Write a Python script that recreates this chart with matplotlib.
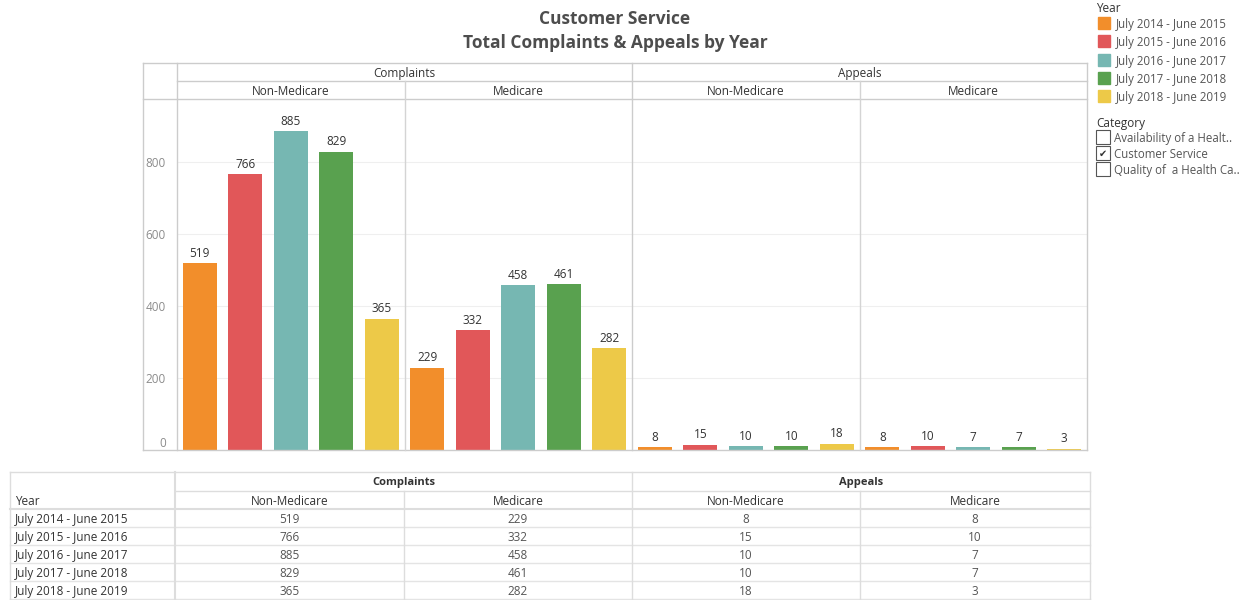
import matplotlib
matplotlib.use("Agg")
import matplotlib.pyplot as plt
from matplotlib.patches import Rectangle
from matplotlib.lines import Line2D

plt.rcParams['font.family'] = ['Open Sans', 'DejaVu Sans']

# ---------------- data ----------------
years = ["July 2014 - June 2015", "July 2015 - June 2016", "July 2016 - June 2017",
         "July 2017 - June 2018", "July 2018 - June 2019"]
groups = ["Complaints", "Appeals"]
subgroups = ["Non-Medicare", "Medicare"]
complaints_non_medicare = [519, 766, 885, 829, 365]
complaints_medicare = [229, 332, 458, 461, 282]
appeals_non_medicare = [8, 15, 10, 10, 18]
appeals_medicare = [8, 10, 7, 7, 3]
panel_values = [complaints_non_medicare, complaints_medicare,
                appeals_non_medicare, appeals_medicare]
colors = ["#F28E2B", "#E15759", "#76B7B2", "#59A14F", "#EDC948"]
categories = ["Availability of a Healt..", "Customer Service", "Quality of  a Health Ca.."]
category_checked = [False, True, False]
y_ticks = [0, 200, 400, 600, 800]

W, H = 1242, 600
fig = plt.figure(figsize=(W / 100, H / 100), dpi=100)
DY = 1.5  # visual centering tweak for text


def fx(x):
    return x / W


def fy(y):
    return 1 - y / H


def ty(y):
    return fy(y + DY)


def hline(x0, x1, y, color="#cccccc", lw=1.0):
    fig.add_artist(Line2D([fx(x0), fx(x1)], [fy(y), fy(y)], color=color, lw=lw,
                          transform=fig.transFigure))


def vline(x, y0, y1, color="#cccccc", lw=1.0):
    fig.add_artist(Line2D([fx(x), fx(x)], [fy(y0), fy(y1)], color=color, lw=lw,
                          transform=fig.transFigure))


# ---------------- title ----------------
fig.text(fx(615), ty(17), "Customer Service", ha="center", va="center",
         fontsize=12.5, fontweight="bold", color="#4d4d4d")
fig.text(fx(615), ty(42), "Total Complaints & Appeals by Year", ha="center", va="center",
         fontsize=12.5, fontweight="bold", color="#4d4d4d")

# ---------------- chart panels ----------------
px_left = [177, 404.5, 632, 859.5]
pw = 227.5
top, bottom = 99, 450
ymax = (bottom - top) / 0.36

axes = []
for i, vals in enumerate(panel_values):
    ax = fig.add_axes([fx(px_left[i]), fy(bottom), pw / W, (bottom - top) / H])
    xs = list(range(len(vals)))
    ax.bar(xs, vals, width=0.75, color=colors, edgecolor="none", zorder=3)
    for x, v in zip(xs, vals):
        ax.annotate(str(v), (x, v), xytext=(0, 2.5), textcoords="offset points",
                    ha="center", va="bottom", fontsize=8.5, color="#333333")
    ax.set_xlim(-0.5, len(vals) - 0.5)
    ax.set_ylim(0, ymax)
    ax.set_yticks(y_ticks)
    for t in y_ticks[1:]:
        ax.axhline(t, color="#efefef", lw=0.8, zorder=1)
    ax.set_xticks([])
    ax.tick_params(axis="y", length=0, labelsize=8.5, labelcolor="#8c8c8c", pad=8)
    if i > 0:
        ax.set_yticklabels([])
    for s in ax.spines.values():
        s.set_visible(False)
    ax.set_facecolor("none")
    axes.append(ax)

for lab in axes[0].get_yticklabels():
    if lab.get_text() == "0":
        lab.set_va("bottom")

# chart borders / headers
hline(143, 1087, 63)
hline(177, 1087, 81)
hline(143, 1087, 99)
hline(143, 1087, 450)
for x in (143, 177, 632, 1087):
    vline(x, 63, 450)
for x in (404.5, 859.5):
    vline(x, 81, 450, color="#d4d4d4")

hdr_color = "#333333"
fig.text(fx((177 + 632) / 2), ty(72), groups[0], ha="center", va="center",
         fontsize=8.5, color=hdr_color)
fig.text(fx((632 + 1087) / 2), ty(72), groups[1], ha="center", va="center",
         fontsize=8.5, color=hdr_color)
for i in range(4):
    fig.text(fx(px_left[i] + pw / 2), ty(90), subgroups[i % 2], ha="center", va="center",
             fontsize=8.5, color=hdr_color)

# ---------------- legend ----------------
fig.text(fx(1096), ty(7), "Year", ha="left", va="center", fontsize=8.5, color="#333333")
for k, (lab, c) in enumerate(zip(years, colors)):
    yy = 23 + k * 18.3
    fig.add_artist(Rectangle((fx(1098), fy(yy + 6)), 12 / W, 12 / H, color=c,
                             transform=fig.transFigure))
    fig.text(fx(1116), ty(yy), lab, ha="left", va="center", fontsize=8.3, color="#555555")

fig.text(fx(1096), ty(122), "Category", ha="left", va="center", fontsize=8.5, color="#333333")
for k, (lab, chk) in enumerate(zip(categories, category_checked)):
    yy = 137 + k * 16
    fig.add_artist(Rectangle((fx(1096), fy(yy + 7)), 14 / W, 14 / H, facecolor="white",
                             edgecolor="#555555", lw=0.8, transform=fig.transFigure))
    if chk:
        fig.text(fx(1103), fy(yy + 1), "\u2714", ha="center", va="center",
                 fontsize=7, color="#333333", family="DejaVu Sans")
    fig.text(fx(1114), ty(yy), lab, ha="left", va="center", fontsize=8.3, color="#555555")

# ---------------- table ----------------
tl, tr = 10, 1090
col_edges = [175, 404, 632, 860, 1090]
t_top = 472
row_h = 18
hline(tl, tr, t_top, color="#dddddd")
hline(175, tr, 491, color="#dddddd")
hline(tl, tr, 509, color="#dddddd", lw=1.5)
for r in range(1, len(years) + 1):
    hline(tl, tr, 509 + r * row_h, color="#e4e4e4")
vline(tl, t_top, 600, color="#dddddd")
vline(175, t_top, 600, color="#dddddd", lw=1.5)
vline(632, t_top, 600, color="#dddddd")
vline(1090, t_top, 600, color="#dddddd")
vline(404, 491, 600, color="#dddddd")
vline(860, 491, 600, color="#dddddd")

fig.text(fx((175 + 632) / 2), ty(481), groups[0], ha="center", va="center",
         fontsize=8, fontweight="bold", color=hdr_color)
fig.text(fx((632 + 1090) / 2), ty(481), groups[1], ha="center", va="center",
         fontsize=8, fontweight="bold", color=hdr_color)
fig.text(fx(15), ty(500), "Year", ha="left", va="center", fontsize=8.5, color=hdr_color)
for j in range(4):
    cx = (col_edges[j] + col_edges[j + 1]) / 2
    fig.text(fx(cx), ty(500), subgroups[j % 2], ha="center", va="center",
             fontsize=8.5, color=hdr_color)
for r, yr in enumerate(years):
    yy = 518 + r * row_h
    fig.text(fx(15), ty(yy), yr, ha="left", va="center", fontsize=8.5, color=hdr_color)
    for j in range(4):
        cx = (col_edges[j] + col_edges[j + 1]) / 2
        fig.text(fx(cx), ty(yy), str(panel_values[j][r]), ha="center", va="center",
                 fontsize=8.5, color="#555555")

fig.savefig("out.png", dpi=100, facecolor="white")
